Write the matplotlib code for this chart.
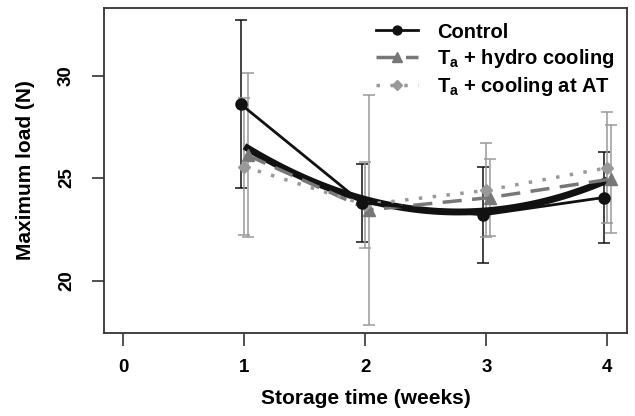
import numpy as np
import matplotlib
matplotlib.use('Agg')
import matplotlib.pyplot as plt

plt.rcParams['font.family'] = ['Liberation Sans', 'DejaVu Sans']
plt.rcParams['font.weight'] = 'bold'
plt.rcParams['mathtext.fontset'] = 'custom'
plt.rcParams['mathtext.rm'] = 'Liberation Sans:bold'
plt.rcParams['mathtext.bf'] = 'Liberation Sans:bold'

# 数据
weeks = [1, 2, 3, 4]
control = [28.6, 23.8, 23.2, 24.05]
control_err = [4.1, 1.9, 2.35, 2.2]
hydro = [26.1, 23.45, 24.05, 24.95]
hydro_err = [4.0, 5.6, 1.9, 2.65]
cool_at = [25.55, 23.7, 24.4, 25.5]
cool_at_err = [3.35, 2.1, 2.3, 2.7]
# 粗线: 二次趋势线 (读取的曲线值)
trend = [26.55, 23.95, 23.4, 24.9]

w = np.array(weeks, dtype=float)

fig = plt.figure(figsize=(6.35, 4.16), dpi=100)
ax = fig.add_axes([0.164, 0.2, 0.823, 0.781])

# 误差线
ax.errorbar(w - 0.03, control, yerr=control_err, fmt='none', ecolor='#111111',
            elinewidth=1.1, capsize=4, capthick=1.1, zorder=2)
ax.errorbar(w + 0.0, cool_at, yerr=cool_at_err, fmt='none', ecolor='#999999',
            elinewidth=1.1, capsize=4, capthick=1.1, zorder=2)
ax.errorbar(w + 0.03, hydro, yerr=hydro_err, fmt='none', ecolor='#9a9a9a',
            elinewidth=1.1, capsize=4, capthick=1.1, zorder=2)

# 趋势线
coef = np.polyfit(w, trend, 2)
xs = np.linspace(1, 4, 100)
ax.plot(xs, np.polyval(coef, xs), color='#111111', lw=5, solid_capstyle='butt', zorder=3)

# 各处理折线
ax.plot(w - 0.03, control, color='#111111', lw=2, marker='o', ms=8, label='Control', zorder=5)
ax.plot(w + 0.03, hydro, color='#777777', lw=2.5, ls=(0, (5.5, 3)), marker='^', ms=9,
        label=r'T$_{\mathbf{a}}$ + hydro cooling', zorder=4)
ax.plot(w, cool_at, color='#999999', lw=2.5, ls=(0, (1, 3)), marker='D', ms=6,
        label=r'T$_{\mathbf{a}}$ + cooling at AT', zorder=4)

ax.set_xlim(-0.16, 4.16)
ax.set_ylim(17.45, 33.3)
ax.set_xticks([0, 1, 2, 3, 4])
ax.set_yticks([20, 25, 30])
ax.set_yticklabels(['20', '25', '30'], rotation=90, va='center')
ax.tick_params(labelsize=13.5, length=9, width=1.2, color='#333333')
ax.tick_params(axis='x', pad=10)
ax.tick_params(axis='y', pad=12)
for s in ax.spines.values():
    s.set_linewidth(1.3)
    s.set_color('#333333')

ax.set_xlabel('Storage time (weeks)', fontsize=15, fontweight='bold', va='center')
ax.set_ylabel('Maximum load (N)', fontsize=15, fontweight='bold', va='center')
ax.xaxis.set_label_coords(0.5, -0.203)
ax.yaxis.set_label_coords(-0.151, 0.5)

ax.legend(loc='upper left', frameon=False, fontsize=14.5, handlelength=2.1,
          borderaxespad=0.0, borderpad=0.0, labelspacing=0.25, handletextpad=0.95,
          markerscale=0.8, bbox_to_anchor=(0.52, 0.955))

fig.savefig('out.png', dpi=100)
